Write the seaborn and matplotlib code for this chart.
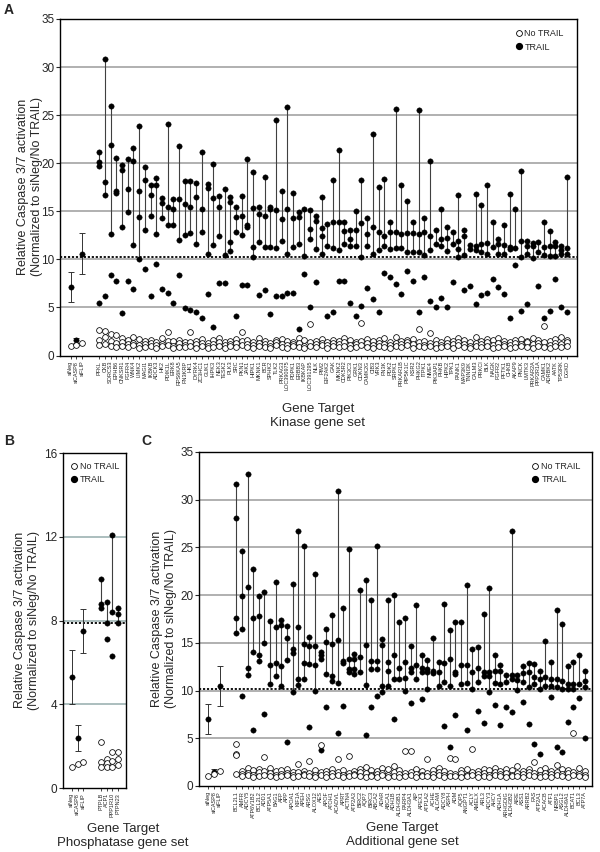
import numpy as np
import pandas as pd
import matplotlib
matplotlib.use('Agg')
import matplotlib.pyplot as plt
import seaborn as sns
from matplotlib.lines import Line2D

sns.set_theme(style='white')
plt.rcParams['font.family'] = ['Liberation Sans', 'DejaVu Sans']

controls = ['siNeg', 'siCASP8', 'siFLIP']

# ---------------- panel A: kinase gene set ----------------
genes_A = ['PFKL', 'CKB', 'SORCS3', 'EPHB6', 'CNKSR1', 'FGFR4', 'WNK4', 'LIMK2', 'MAGI1', 'IKBKB',
           'ADCK3', 'HK2', 'PDIK1L', 'ERK8', 'RPS6KA5', 'FN3KRP', 'HK1', 'DYRK4', 'ZC3HC1', 'GUK1',
           'IHPK3', 'NEK3', 'TESK2', 'PLK3', 'SRC', 'PKN1', 'JAK1', 'HIPK1', 'MKNK1', 'BCR',
           'SPHK2', 'TLK2', 'PRKAG3', 'LOC390975', 'PDPK1', 'ERBB3', 'IKBKAP', 'LOC391295', 'NLK', 'PIM2',
           'EIF2AK2', 'GAK', 'MKNK2', 'CDK5R2', 'PIK3C3', 'GRK1', 'CDKN3', 'CAMK2G', 'CIB3', 'VRK3',
           'FN3K', 'PDK2', 'SRPK1', 'PRKAR1B', 'PIP5K1C', 'KSR2', 'PHKG2', 'ITPK1', 'NME4', 'PIK3AP1',
           'PHKB', 'HIPK2', 'TPK1', 'PANK1', 'MAP3K9', 'TNNI3K', 'CALM3', 'PRKCI', 'BLK', 'NAGK',
           'FGFR2', 'PFTK1', 'CHKB', 'AKAP9', 'PNCK', 'LMTK3', 'PRKAR2A', 'PPP2R1A', 'CAMK1', 'ADRBK2',
           'AATK', 'TP53RK', 'DGKD']

trail_A = [
    [21.2, 20.1, 19.7, 5.5], [30.8, 18.1, 16.7, 6.2], [26.0, 21.9, 12.6, 8.4], [20.5, 17.1, 16.9, 7.8],
    [19.8, 19.3, 13.4, 4.4], [20.4, 17.3, 14.9, 7.8], [21.6, 20.2, 11.5, 6.9], [23.9, 17.1, 14.4, 10.0],
    [19.6, 18.3, 13.1, 9.0], [17.7, 16.7, 14.5, 6.2], [18.5, 17.7, 12.6, 9.5], [16.4, 15.9, 14.3, 6.9],
    [24.1, 15.4, 13.6, 6.5], [16.3, 15.2, 13.6, 5.5], [21.8, 16.3, 12.0, 8.4], [18.2, 15.8, 12.5, 4.9],
    [18.2, 15.4, 12.7, 4.7], [17.9, 16.5, 11.6, 4.5], [21.2, 15.2, 12.9, 3.9], [17.8, 17.4, 10.6, 6.4],
    [19.9, 16.4, 11.5, 3.0], [16.6, 15.4, 12.4, 7.5], [17.3, 10.5, 7.5], [16.5, 16.0, 11.8, 10.9],
    [15.4, 14.4, 12.9, 4.1], [16.6, 14.5, 12.5, 7.3], [20.4, 13.6, 13.4, 7.3], [19.1, 15.3, 11.3, 10.2],
    [15.5, 14.7, 11.8, 6.3], [18.6, 14.5, 11.3, 6.8], [15.4, 15.2, 11.3, 4.3], [24.5, 15.1, 11.2, 6.2],
    [17.1, 14.2, 11.9, 6.2], [25.9, 15.2, 10.6, 6.5], [16.9, 14.3, 11.3, 6.5], [14.9, 14.4, 11.6, 2.8],
    [15.2, 10.4, 8.5], [15.1, 13.2, 12.1, 5.0], [14.5, 14.0, 11.1, 7.6], [16.5, 13.3, 12.4, 10.6],
    [13.7, 11.4, 4.1], [18.3, 13.9, 11.2, 4.5], [21.4, 13.9, 11.0, 7.8], [13.9, 13.0, 11.6, 7.8],
    [13.1, 12.1, 11.4, 5.5], [15.0, 13.1, 11.4, 4.1], [18.3, 13.8, 10.3, 5.2], [14.3, 12.6, 11.4, 7.0],
    [23.0, 13.4, 10.6, 5.9], [17.5, 12.9, 11.0, 4.5], [18.4, 12.4, 11.4, 8.6], [13.9, 12.8, 11.1, 8.2],
    [25.6, 12.8, 11.2, 7.4], [17.7, 12.6, 11.2, 6.4], [16.1, 12.7, 10.8, 8.8], [13.9, 12.7, 10.8, 7.8],
    [25.5, 12.6, 10.8, 4.5], [14.3, 12.9, 10.5, 8.2], [20.2, 12.4, 11.0, 5.7], [13.1, 11.6, 5.1],
    [15.2, 12.1, 11.4, 6.0], [13.4, 12.2, 10.9, 5.0], [12.8, 11.6, 7.6], [16.7, 11.9, 11.1, 10.2],
    [13.1, 12.4, 10.5, 6.8], [11.5, 11.1, 7.2], [16.8, 11.4, 11.0, 5.4], [15.7, 11.6, 10.8, 6.3],
    [17.7, 11.7, 10.6, 6.5], [13.9, 11.3, 8.0], [12.1, 11.6, 10.6, 7.1], [13.6, 11.5, 10.6, 6.4],
    [16.8, 11.3, 11.1, 3.9], [15.2, 11.2, 9.4], [19.2, 11.9, 10.3, 4.6], [11.9, 11.4, 10.6, 5.4],
    [11.7, 11.4, 10.1], [11.8, 10.8, 7.2], [13.9, 11.3, 10.5, 3.9], [13.0, 11.4, 10.4, 4.6],
    [11.8, 11.4, 10.4, 8.0], [11.4, 11.0, 10.6, 5.1], [18.6, 11.2, 10.6, 4.5]]

notrail_A = [
    [2.7, 1.6, 1.1], [2.6, 1.9, 1.2], [2.2, 1.5, 1.0], [2.1, 1.3, 0.9], [1.8, 1.4, 1.0],
    [1.6, 1.2, 0.9], [1.9, 1.3, 1.1], [1.7, 1.1, 0.8], [1.5, 1.2, 0.9], [1.6, 1.3, 1.0],
    [1.4, 1.1, 0.8], [1.8, 1.2, 1.0], [2.4, 1.5, 1.1], [1.5, 1.0, 0.8], [1.6, 1.3, 0.9],
    [1.4, 1.1, 0.9], [2.4, 1.4, 1.0], [1.5, 1.2, 0.8], [1.7, 1.3, 1.0], [1.3, 1.0, 0.8],
    [1.6, 1.2, 0.9], [1.8, 1.4, 1.0], [1.4, 1.1, 0.8], [1.5, 1.2, 1.0], [1.7, 1.3, 0.9],
    [2.5, 1.5, 1.1], [1.6, 1.2, 0.9], [1.4, 1.1, 0.8], [1.8, 1.3, 1.0], [1.5, 1.2, 0.9],
    [1.3, 1.0, 0.8], [1.6, 1.4, 1.1], [1.7, 1.2, 0.9], [1.5, 1.1, 0.8], [1.4, 1.2, 1.0],
    [1.8, 1.3, 0.9], [1.6, 1.0, 0.8], [3.3, 1.4, 1.0], [1.5, 1.2, 0.9], [1.7, 1.3, 1.1],
    [1.4, 1.1, 0.8], [1.6, 1.3, 1.0], [1.5, 1.2, 0.9], [1.8, 1.4, 1.0], [1.6, 1.1, 0.8],
    [1.4, 1.2, 0.9], [3.4, 1.5, 1.1], [1.7, 1.3, 0.9], [1.5, 1.1, 0.8], [1.6, 1.3, 1.0],
    [1.8, 1.2, 0.9], [1.4, 1.1, 0.8], [1.9, 1.3, 1.0], [1.5, 1.2, 0.9], [1.6, 1.4, 1.1],
    [1.7, 1.2, 0.8], [2.8, 1.4, 1.0], [1.5, 1.1, 0.9], [2.3, 1.3, 1.0], [1.6, 1.2, 0.8],
    [1.4, 1.1, 0.9], [1.7, 1.3, 1.0], [1.5, 1.2, 0.8], [1.8, 1.4, 1.1], [1.6, 1.2, 0.9],
    [1.4, 1.0, 0.8], [1.9, 1.3, 1.0], [1.5, 1.2, 0.9], [1.7, 1.4, 1.0], [1.6, 1.1, 0.8],
    [1.8, 1.3, 0.9], [1.5, 1.2, 1.0], [1.4, 1.1, 0.8], [1.6, 1.3, 0.9], [1.7, 1.2, 1.0],
    [1.5, 1.4, 0.9], [1.8, 1.2, 0.8], [1.6, 1.3, 1.0], [3.1, 1.4, 0.9], [1.5, 1.1, 0.8],
    [1.7, 1.3, 1.0], [1.9, 1.2, 0.9], [1.6, 1.4, 1.0]]

ctrl_trail_A = [7.1, 1.6, 10.6]
ctrl_err_A = [1.55, 0.25, 2.1]
ctrl_notrail_A = [1.0, 1.1, 1.3]

# ---------------- panel B: phosphatase gene set ----------------
genes_B = ['PTPLB', 'ACP1', 'PPP1R10', 'PTPN23']
trail_B = [[10.0, 8.8, 8.6], [8.9, 7.9, 7.1], [12.1, 8.4, 6.3], [8.6, 8.3, 7.9]]
notrail_B = [[2.2, 1.25, 1.0], [1.4, 1.2, 1.0], [1.7, 1.3, 1.0], [1.7, 1.4, 1.1]]
ctrl_trail_B = [5.3, 2.4, 7.5]
ctrl_err_B = [1.3, 0.62, 1.05]
ctrl_notrail_B = [1.0, 1.15, 1.25]

# ---------------- panel C: additional gene set ----------------
genes_C = ['BCL2L1', 'AMFR', 'ADCY5', 'ATP6V1B2', 'BCL2L2', 'ADD1', 'ATP5A1', 'BAG1', 'AFP', 'APP',
           'APOA1', 'KIF1A', 'APEH', 'ARSG', 'ALOX12', 'AES', 'APOF', 'ATOH1', 'ACADVL', 'APRT',
           'ACTN4', 'ATP2A3', 'BIRC2', 'AQP7', 'BIRC3', 'ABCA2', 'ADAR', 'ABCA1', 'ADH1B', 'ALDH3B1',
           'PARP4', 'ALDH3A1', 'AIP', 'APEX1', 'ATP1A2', 'ACHE', 'ALCAM', 'ADCY8', 'ASPH', 'ADM',
           'AQP5', 'ANGPT1', 'ACLY', 'AMELX', 'ARL3', 'ADCY3', 'AHCY', 'ADH1A', 'ARHGDIG', 'ALDH3B2',
           'AIRE', 'ASS1', 'ARRB2', 'FAS', 'ATP2A1', 'ACACB', 'ATF1', 'NRBP1', 'ASGL2', 'ALDH9A1',
           'BCAT1', 'BCL3', 'ATP7A']

trail_C = [
    [31.6, 28.1, 17.6, 16.0], [24.6, 19.9, 16.5, 9.4], [32.7, 20.9, 12.4, 11.6], [22.7, 17.6, 14.0, 5.9],
    [19.9, 17.8, 13.7, 13.1], [20.3, 15.0, 7.5], [17.3, 12.7, 10.7], [21.4, 16.7, 12.9, 11.5],
    [17.4, 16.9, 12.6, 10.5], [16.8, 15.5, 13.2, 4.6], [21.2, 14.4, 13.9, 9.8], [26.7, 16.7, 11.2, 10.6],
    [25.1, 14.9, 12.9, 11.2], [15.6, 14.7, 12.8, 6.2], [22.2, 14.7, 12.7, 10.0], [14.0, 13.7, 13.3, 3.8],
    [16.5, 15.1, 11.7, 8.3], [17.9, 14.9, 11.5, 11.0], [30.9, 15.3, 10.8, 5.6], [18.7, 13.1, 12.9, 8.4],
    [24.8, 13.3, 12.3, 11.9], [13.8, 13.3, 12.3, 11.7], [20.5, 13.5, 11.9], [21.6, 14.8, 10.6, 5.3],
    [19.5, 13.1, 12.3, 8.3], [25.1, 13.1, 12.3, 9.4], [15.4, 14.8, 10.5, 9.8], [19.5, 13.0, 12.1, 10.5],
    [20.0, 13.7, 11.2, 7.0], [17.2, 12.4, 11.2], [17.6, 13.0, 11.3, 10.0], [14.7, 12.4, 11.9, 8.7],
    [19.0, 12.7, 11.2], [13.7, 12.4, 11.9, 9.1], [13.2, 12.3, 11.9, 10.2], [15.5, 12.1, 11.8],
    [13.0, 11.9, 10.5], [19.1, 12.9, 10.9, 6.3], [16.3, 13.3, 10.5, 4.1], [17.2, 11.9, 11.7, 7.4],
    [17.2, 12.7, 10.7], [21.1, 12.7, 10.8, 5.9], [14.4, 11.9, 10.2], [14.6, 12.4, 10.9, 7.9],
    [18.0, 11.9, 11.5, 6.6], [20.7, 11.9, 11.5, 9.9], [13.7, 12.1, 10.8, 8.5], [12.7, 12.1, 10.7, 6.4],
    [11.6, 10.9, 8.3], [26.7, 11.6, 11.2, 7.7], [11.6, 11.1, 10.1], [12.6, 11.8, 10.9, 8.8],
    [12.9, 11.9, 10.4, 6.5], [12.8, 11.4, 10.7, 4.4], [12.1, 11.2, 10.2, 3.3], [15.2, 11.4, 10.5],
    [13.0, 11.2, 10.5, 9.3], [18.4, 11.2, 10.4, 4.1], [17.0, 11.0, 10.2, 3.6], [12.6, 10.7, 10.2, 6.7],
    [13.0, 10.7, 10.2, 8.3], [13.7, 10.7, 9.2], [12.0, 11.0, 10.4, 5.0]]

notrail_C = [
    [4.4, 3.4, 3.2, 1.3], [1.6, 1.3, 1.0], [1.9, 1.4, 1.1], [1.7, 1.2, 0.9], [1.8, 1.5, 1.0],
    [3.0, 1.6, 1.1], [1.9, 1.4, 1.0], [1.6, 1.2, 0.9], [1.7, 1.3, 1.0], [1.8, 1.4, 1.1],
    [1.5, 1.2, 0.9], [2.3, 1.5, 1.0], [1.6, 1.3, 1.1], [2.6, 1.4, 1.0], [1.7, 1.2, 0.9],
    [4.3, 1.5, 1.1], [1.6, 1.3, 0.9], [1.8, 1.4, 1.0], [2.8, 1.5, 1.1], [1.7, 1.2, 0.9],
    [3.1, 1.4, 1.0], [1.6, 1.3, 1.1], [1.8, 1.5, 1.0], [2.0, 1.4, 0.9], [1.7, 1.2, 1.0],
    [1.6, 1.3, 0.9], [1.9, 1.4, 1.1], [1.8, 1.2, 0.9], [2.1, 1.5, 1.0], [1.7, 1.3, 0.9],
    [3.7, 1.4, 1.0], [3.7, 1.5, 1.1], [1.8, 1.3, 0.9], [1.6, 1.2, 1.0], [2.8, 1.4, 1.0],
    [1.7, 1.3, 0.9], [1.9, 1.5, 1.1], [1.6, 1.2, 0.9], [2.9, 1.4, 1.0], [2.8, 1.3, 1.0],
    [1.7, 1.4, 0.9], [1.8, 1.2, 1.0], [3.9, 1.5, 1.1], [1.6, 1.3, 0.9], [1.8, 1.4, 1.0],
    [1.7, 1.2, 0.9], [1.9, 1.5, 1.1], [1.6, 1.3, 1.0], [1.8, 1.4, 0.9], [1.7, 1.2, 1.0],
    [2.1, 1.4, 1.0], [1.6, 1.3, 0.9], [1.8, 1.5, 1.1], [2.5, 1.4, 1.0], [1.7, 1.2, 0.9],
    [1.9, 1.4, 1.0], [1.6, 1.3, 0.9], [2.2, 1.5, 1.1], [1.8, 1.3, 1.0], [1.7, 1.4, 0.9],
    [5.6, 1.5, 1.1], [1.9, 1.3, 1.0], [1.6, 1.2, 0.9]]

ctrl_trail_C = [7.0, 1.5, 10.5]
ctrl_err_C = [1.55, 0.25, 2.1]
ctrl_notrail_C = [1.05, 1.3, 1.6]

YLABEL = 'Relative Caspase 3/7 activation\n(Normalized to siNeg/No TRAIL)'


def long_table(ctrl_vals, gene_vals):
    rows = [(i, v) for i, v in enumerate(ctrl_vals)]
    rows += [(5 + i, v) for i, vs in enumerate(gene_vals) for v in vs]
    return pd.DataFrame(rows, columns=['slot', 'value'])


def draw_panel(ax, genes, trail, notrail, c_trail, c_err, c_notrail,
               thr, ymax, yticks, grid, xlim, gridcolor='#a3a3a3', legend_loc=None):
    for g in grid:
        ax.axhline(g, color=gridcolor, lw=1.2, zorder=1)
    ax.axhline(thr, color='black', ls=(0, (1.2, 1.0)), lw=1.3, zorder=2)

    # vertical range lines joining the replicates above the cut-off
    for i, vs in enumerate(trail):
        hi = [v for v in vs if v >= thr - 0.4]
        if len(hi) > 1:
            ax.vlines(5 + i, min(hi), max(hi), color='#404040', lw=0.8, zorder=2)

    ax.errorbar(range(3), c_trail, yerr=c_err, fmt='none', ecolor='#333333',
                elinewidth=0.7, capsize=2.2, capthick=0.7, zorder=3)

    df_t = long_table(c_trail, trail)
    df_n = long_table(c_notrail, notrail)
    sns.scatterplot(data=df_t, x='slot', y='value', color='black', edgecolor='black',
                    s=15, linewidth=0.3, ax=ax, zorder=4, legend=False)
    sns.scatterplot(data=df_n, x='slot', y='value', color='white', edgecolor='black',
                    s=17, linewidth=0.55, ax=ax, zorder=5, legend=False)

    slots = list(range(3)) + [5 + i for i in range(len(genes))]
    ax.set_xticks(slots)
    ax.set_xticklabels(controls + genes, rotation=90, fontsize=4)
    ax.set_xlim(*xlim)
    ax.set_ylim(0, ymax)
    ax.set_yticks(yticks)
    ax.tick_params(axis='x', length=2.5, width=0.6, pad=1.2, bottom=True, direction='out')
    ax.tick_params(axis='y', length=3, width=0.8, pad=1.0, labelsize=8.5, left=True, direction='out')
    ax.set_xlabel('')
    ax.set_ylabel('')
    for sp in ax.spines.values():
        sp.set_visible(True)
        sp.set_color('black')
        sp.set_linewidth(1.0)

    handles = [Line2D([], [], marker='o', ls='', mfc='white', mec='black', ms=4.2, mew=0.6, label='No TRAIL'),
               Line2D([], [], marker='o', ls='', mfc='black', mec='black', ms=4.2, label='TRAIL')]
    loc, anchor = legend_loc
    ax.legend(handles=handles, loc=loc, bbox_to_anchor=anchor, frameon=False, fontsize=6.5,
              handletextpad=0.15, labelspacing=0.45, handlelength=1.0, borderaxespad=0.2)


fig = plt.figure(figsize=(6, 8.52), dpi=100)

axA = fig.add_axes([0.1, 0.5827, 0.8617, 0.395])
draw_panel(axA, genes_A, trail_A, notrail_A, ctrl_trail_A, ctrl_err_A, ctrl_notrail_A,
           thr=10.2, ymax=35, yticks=range(0, 36, 5), grid=[5, 10, 15, 20, 25, 30],
           xlim=(-1.88, 88.8), legend_loc=('upper right', (0.985, 0.985)))

axB = fig.add_axes([0.105, 0.0751, 0.105, 0.3932])
draw_panel(axB, genes_B, trail_B, notrail_B, ctrl_trail_B, ctrl_err_B, ctrl_notrail_B,
           thr=7.9, ymax=16, yticks=[0, 4, 8, 12, 16], grid=[4, 8, 12],
           xlim=(-1.5, 9.36), gridcolor='#9db3b3', legend_loc=('upper left', (0.02, 0.99)))

axC = fig.add_axes([0.3317, 0.0775, 0.655, 0.392])
draw_panel(axC, genes_C, trail_C, notrail_C, ctrl_trail_C, ctrl_err_C, ctrl_notrail_C,
           thr=10.2, ymax=35, yticks=range(0, 36, 5), grid=[5, 10, 15, 20, 25, 30],
           xlim=(-1.65, 68.3), legend_loc=('upper right', (0.985, 0.985)))

# axis titles and panel letters
fig.text(30 / 600, 1 - 187 / 852, YLABEL, rotation=90, ha='center', va='center', fontsize=9)
fig.text(27 / 600, 1 - 620 / 852, YLABEL, rotation=90, ha='center', va='center', fontsize=9)
fig.text(164 / 600, 1 - 619 / 852, YLABEL, rotation=90, ha='center', va='center', fontsize=9)

fig.text(318 / 600, 1 - 416 / 852, 'Gene Target\nKinase gene set', ha='center', va='center', fontsize=9.5)
fig.text(123 / 600, 1 - 836 / 852, 'Gene Target\nPhosphatase gene set', ha='center', va='center', fontsize=9.5)
fig.text(402 / 600, 1 - 835 / 852, 'Gene Target\nAdditional gene set', ha='center', va='center', fontsize=9.5)

fig.text(4 / 600, 1 - 3 / 852, 'A', fontsize=10, fontweight='bold', va='top')
fig.text(4 / 600, 1 - 434 / 852, 'B', fontsize=10, fontweight='bold', va='top')
fig.text(141 / 600, 1 - 434 / 852, 'C', fontsize=10, fontweight='bold', va='top')

fig.savefig('out.png', dpi=100)
